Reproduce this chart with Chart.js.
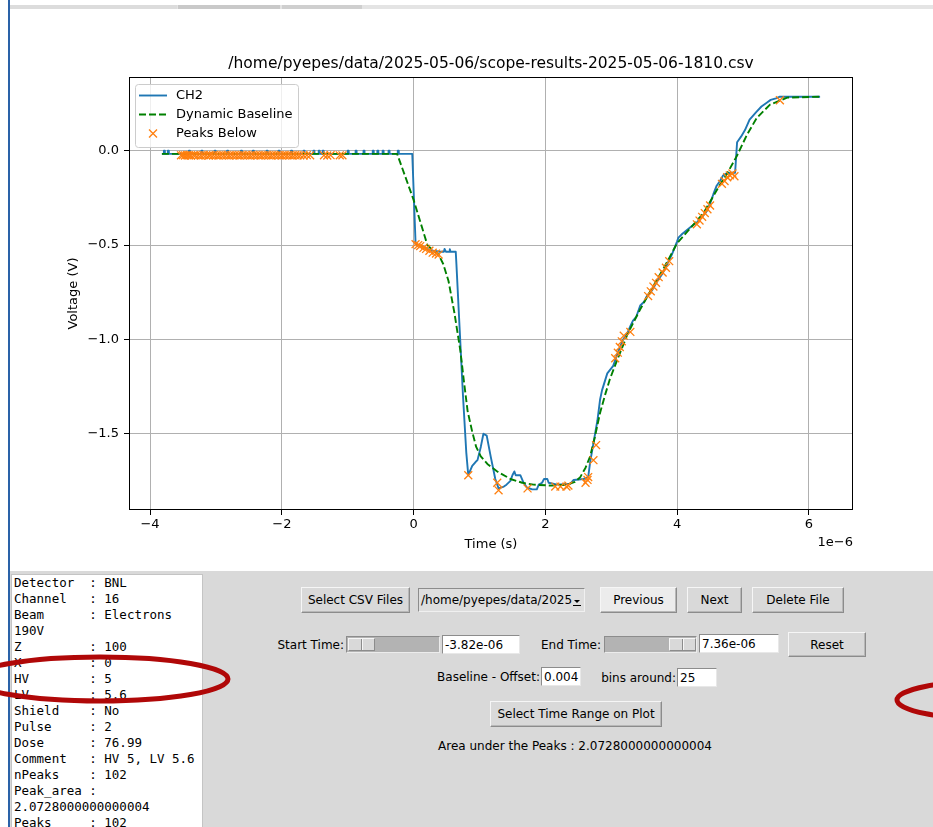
<!DOCTYPE html>
<html>
<head>
<meta charset="utf-8">
<title>scope-results-2025-05-06-1810</title>
<script src="https://cdn.jsdelivr.net/npm/chart.js@4.4.1/dist/chart.umd.min.js"></script>
<style>
  html, body { margin: 0; padding: 0; background: #ffffff; }
  body { width: 933px; height: 827px; position: relative; overflow: hidden;
         font-family: "DejaVu Sans", sans-serif; font-size: 12px; color: #000; }
  #plot { position: absolute; left: 0; top: 0; }
  .abs { position: absolute; box-sizing: border-box; }
  .strip { position: absolute; top: 5px; height: 4px; }
  #edge { left: 8px; top: 0; width: 2px; height: 827px; background: #2a62a8; }
  #panel { left: 10px; top: 571px; width: 923px; height: 256px; background: #d9d9d9; }
  #info { left: 11px; top: 574px; width: 192px; height: 260px; background: #ffffff;
          border: 1px solid #c4c4c4; margin: 0; padding: 0 0 0 2px;
          font-family: "DejaVu Sans Mono", monospace; font-size: 12.5px; line-height: 16px;
          white-space: pre; overflow: hidden; }
  .btn { background: #d9d9d9; border: 1px solid; border-color: #f6f6f6 #8c8c8c #8c8c8c #f6f6f6;
         box-shadow: inset -1px -1px 0 #b8b8b8; display: flex; align-items: center; justify-content: center;
         white-space: nowrap; }
  .btn.active { background: #ececec; }
  .entry { background: #ffffff; border: 1px solid; border-color: #8c8c8c #e8e8e8 #e8e8e8 #8c8c8c;
           padding-left: 2px; display: flex; align-items: center; white-space: nowrap; }
  .lbl { white-space: nowrap; display: flex; align-items: center; }
  .trough { background: #b3b3b3; border: 1px solid; border-color: #8c8c8c #ececec #ececec #8c8c8c; }
  .handle { position: absolute; top: 1px; height: 13px; width: 27px; background: #d9d9d9;
            border: 1px solid; border-color: #f6f6f6 #8c8c8c #8c8c8c #f6f6f6; box-sizing: border-box; }
  .handle::after { content: ""; position: absolute; left: 12px; top: 0; width: 1px; height: 11px;
                   background: #8c8c8c; box-shadow: 1px 0 0 #f6f6f6; }
  .combo { background: #dedede; border: 1px solid; border-color: #8c8c8c #f0f0f0 #f0f0f0 #8c8c8c;
           display: flex; align-items: center; padding-left: 2px; white-space: nowrap; overflow: hidden; }
  .arrow { position: absolute; right: 2px; top: 5px; width: 10px; height: 13px; }
  #marks { position: absolute; left: 0; top: 0; pointer-events: none; }
</style>
</head>
<body>
<canvas id="plot" width="933" height="570"></canvas>

<div class="strip" style="left:10px;width:923px;background:#e4e4e4;"></div>
<div class="strip" style="left:10px;width:167px;background:#dcdcdc;"></div>
<div class="strip" style="left:178px;width:102px;background:#c9c9c9;"></div>
<div class="strip" style="left:282px;width:80px;background:#cfcfcf;"></div>

<div class="abs" id="panel"></div>
<div class="abs" id="edge"></div>

<pre class="abs" id="info">Detector  : BNL
Channel   : 16
Beam      : Electrons
190V
Z         : 100
X         : 0
HV        : 5
LV        : 5.6
Shield    : No
Pulse     : 2
Dose      : 76.99
Comment   : HV 5, LV 5.6
nPeaks    : 102
Peak_area :
2.0728000000000004
Peaks     : 102</pre>

<div class="abs btn" style="left:301px;top:587px;width:109px;height:26px;">Select CSV Files</div>
<div class="abs combo" style="left:418px;top:588px;width:167px;height:24px;">/home/pyepes/data/2025
  <svg class="arrow" viewBox="0 0 10 13"><path d="M2 6 L8 6 L5 9 Z" fill="#000"/><rect x="1" y="11" width="8" height="1" fill="#000"/></svg>
</div>
<div class="abs btn active" style="left:600px;top:587px;width:77px;height:26px;">Previous</div>
<div class="abs btn" style="left:687px;top:587px;width:55px;height:26px;">Next</div>
<div class="abs btn" style="left:752px;top:587px;width:92px;height:26px;">Delete File</div>

<div class="abs lbl" style="left:250px;top:635px;width:94px;height:19px;justify-content:flex-end;">Start Time:</div>
<div class="abs trough" style="left:346px;top:636px;width:94px;height:17px;"><div class="handle" style="left:1px;"></div></div>
<div class="abs entry" style="left:442px;top:635px;width:78px;height:19px;">-3.82e-06</div>
<div class="abs lbl" style="left:530px;top:635px;width:71px;height:19px;justify-content:flex-end;">End Time:</div>
<div class="abs trough" style="left:604px;top:636px;width:93px;height:17px;"><div class="handle" style="left:64px;"></div></div>
<div class="abs entry" style="left:699px;top:634px;width:80px;height:19px;">7.36e-06</div>
<div class="abs btn" style="left:788px;top:632px;width:78px;height:25px;">Reset</div>

<div class="abs lbl" style="left:400px;top:667px;width:140px;height:19px;justify-content:flex-end;">Baseline - Offset:</div>
<div class="abs entry" style="left:541px;top:667px;width:40px;height:19px;">0.004</div>
<div class="abs lbl" style="left:590px;top:668px;width:86px;height:19px;justify-content:flex-end;">bins around:</div>
<div class="abs entry" style="left:677px;top:668px;width:40px;height:19px;">25</div>

<div class="abs btn" style="left:490px;top:701px;width:172px;height:26px;">Select Time Range on Plot</div>
<div class="abs lbl" style="left:375px;top:736px;width:400px;height:19px;justify-content:center;">Area under the Peaks : 2.0728000000000004</div>

<svg id="marks" width="933" height="827">
  <ellipse cx="100" cy="679" rx="128" ry="22" fill="none" stroke="#b00808" stroke-width="5"/>
  <ellipse cx="997" cy="700" rx="100" ry="19.5" fill="none" stroke="#b00808" stroke-width="5"/>
</svg>

<script>
// Oscilloscope channel 2 trace, time in microseconds, voltage in volts
const ch2Trace = [
  [-3.82,-0.016],
  [-3.79,-0.016],[-3.79,0.000],[-3.775,0.000],[-3.775,-0.016],
  [-3.73,-0.016],[-3.73,0.000],[-3.715,0.000],[-3.715,-0.016],
  [-3.41,-0.016],[-3.41,0.000],[-3.395,0.000],[-3.395,-0.016],
  [-3.22,-0.016],[-3.22,0.000],[-3.205,0.000],[-3.205,-0.016],
  [-3.02,-0.016],[-3.02,0.000],[-3.005,0.000],[-3.005,-0.016],
  [-2.83,-0.016],[-2.83,0.000],[-2.815,0.000],[-2.815,-0.016],
  [-2.62,-0.016],[-2.62,0.000],[-2.605,0.000],[-2.605,-0.016],
  [-2.44,-0.016],[-2.44,0.000],[-2.425,0.000],[-2.425,-0.016],
  [-2.23,-0.016],[-2.23,0.000],[-2.215,0.000],[-2.215,-0.016],
  [-2.05,-0.016],[-2.05,0.000],[-2.035,0.000],[-2.035,-0.016],
  [-1.86,-0.016],[-1.86,0.000],[-1.845,0.000],[-1.845,-0.016],
  [-1.67,-0.016],[-1.67,0.000],[-1.655,0.000],[-1.655,-0.016],
  [-1.52,-0.016],[-1.52,0.000],[-1.505,0.000],[-1.505,-0.016],
  [-1.44,-0.016],[-1.44,0.000],[-1.425,0.000],[-1.425,-0.016],
  [-1.38,-0.016],[-1.38,0.000],[-1.365,0.000],[-1.365,-0.016],
  [-1.00,-0.016],[-1.00,0.000],[-0.985,0.000],[-0.985,-0.016],
  [-0.88,-0.016],[-0.88,0.000],[-0.865,0.000],[-0.865,-0.016],
  [-0.76,-0.016],[-0.76,0.000],[-0.745,0.000],[-0.745,-0.016],
  [-0.62,-0.016],[-0.62,0.000],[-0.605,0.000],[-0.605,-0.016],
  [-0.55,-0.016],[-0.55,0.000],[-0.535,0.000],[-0.535,-0.016],
  [-0.47,-0.016],[-0.47,0.000],[-0.455,0.000],[-0.455,-0.016],
  [-0.38,-0.016],[-0.38,0.000],[-0.365,0.000],[-0.365,-0.016],
  [-0.24,-0.016],[-0.24,0.000],[-0.225,0.000],[-0.225,-0.016],
  [-0.02,-0.016],
  [0.03,-0.49],[0.06,-0.50],[0.12,-0.505],[0.18,-0.515],[0.24,-0.525],[0.30,-0.53],
  [0.40,-0.535],[0.46,-0.535],[0.47,-0.52],[0.49,-0.535],[0.54,-0.535],[0.55,-0.522],
  [0.56,-0.535],[0.64,-0.535],
  [0.65,-0.60],[0.70,-0.95],[0.75,-1.30],[0.80,-1.60],[0.83,-1.72],
  [0.89,-1.67],[0.94,-1.65],[0.97,-1.64],[1.02,-1.57],[1.06,-1.50],[1.11,-1.51],
  [1.17,-1.62],[1.24,-1.74],[1.29,-1.79],[1.37,-1.78],[1.41,-1.77],[1.47,-1.75],
  [1.50,-1.72],[1.53,-1.70],[1.55,-1.72],[1.62,-1.72],[1.67,-1.76],[1.72,-1.785],
  [1.80,-1.795],[1.87,-1.795],[1.90,-1.77],[1.95,-1.76],[1.98,-1.74],[2.03,-1.74],
  [2.05,-1.76],[2.18,-1.77],[2.38,-1.765],[2.43,-1.745],[2.58,-1.74],[2.65,-1.73],
  [2.68,-1.65],[2.73,-1.55],[2.79,-1.43],[2.83,-1.32],[2.86,-1.27],[2.94,-1.18],
  [3.03,-1.14],[3.10,-1.07],[3.18,-1.00],[3.24,-0.97],[3.29,-0.93],[3.33,-0.90],
  [3.38,-0.88],[3.44,-0.82],[3.50,-0.80],[3.54,-0.77],[3.62,-0.74],[3.70,-0.69],
  [3.78,-0.65],[3.85,-0.60],[3.92,-0.55],[4.00,-0.48],[4.02,-0.46],[4.08,-0.44],
  [4.15,-0.42],[4.22,-0.40],[4.30,-0.38],[4.38,-0.35],[4.45,-0.32],[4.50,-0.28],
  [4.55,-0.23],[4.60,-0.185],[4.65,-0.16],[4.70,-0.13],[4.75,-0.12],[4.83,-0.116],
  [4.88,-0.116],[4.91,0.045],[4.97,0.075],[5.03,0.11],[5.10,0.165],[5.20,0.205],
  [5.28,0.235],[5.36,0.255],[5.42,0.27],[5.50,0.278],[5.56,0.287],[6.17,0.287]
];

// Dynamic baseline estimate
const baselineTrace = [
  [-3.82,-0.016],[-0.25,-0.016],[0.00,-0.26],[0.21,-0.50],[0.30,-0.53],[0.38,-0.55],
  [0.45,-0.60],[0.53,-0.69],[0.62,-0.86],[0.71,-1.06],[0.76,-1.21],[0.82,-1.38],
  [0.89,-1.49],[0.95,-1.57],[1.02,-1.62],[1.12,-1.66],[1.27,-1.70],[1.47,-1.74],
  [1.65,-1.76],[1.82,-1.77],[2.10,-1.775],[2.33,-1.77],[2.45,-1.755],[2.53,-1.73],
  [2.61,-1.68],[2.68,-1.62],[2.75,-1.52],[2.83,-1.39],[2.91,-1.29],[2.98,-1.21],
  [3.10,-1.10],[3.25,-0.97],[3.44,-0.84],[3.60,-0.74],[3.80,-0.62],[4.00,-0.49],
  [4.20,-0.41],[4.40,-0.33],[4.55,-0.24],[4.65,-0.18],[4.76,-0.12],[4.91,-0.025],
  [5.06,0.085],[5.21,0.175],[5.41,0.245],[5.67,0.282],[6.17,0.287]
];

// Detected peaks below the baseline
const peaksBelow = [
  [-3.53,-0.024],[-3.50,-0.023],[-3.47,-0.025],[-3.44,-0.023],[-3.41,-0.024],[-3.38,-0.025],
  [-3.34,-0.023],[-3.31,-0.024],[-3.27,-0.024],[-3.23,-0.025],[-3.19,-0.023],[-3.15,-0.024],
  [-3.11,-0.025],[-3.08,-0.023],[-3.04,-0.024],[-3.00,-0.024],[-2.96,-0.025],[-2.92,-0.023],
  [-2.88,-0.024],[-2.84,-0.024],[-2.80,-0.025],[-2.76,-0.023],[-2.72,-0.024],[-2.68,-0.024],
  [-2.64,-0.025],[-2.60,-0.023],[-2.56,-0.024],[-2.52,-0.024],[-2.48,-0.025],[-2.44,-0.023],
  [-2.40,-0.024],[-2.36,-0.024],[-2.32,-0.025],[-2.28,-0.023],[-2.24,-0.024],[-2.20,-0.024],
  [-2.16,-0.025],[-2.12,-0.023],[-2.08,-0.024],[-2.04,-0.024],[-2.00,-0.025],[-1.96,-0.023],
  [-1.92,-0.024],[-1.88,-0.024],[-1.84,-0.025],[-1.80,-0.023],[-1.76,-0.024],[-1.72,-0.024],
  [-1.67,-0.025],[-1.62,-0.023],[-1.57,-0.024],[-1.36,-0.024],[-1.31,-0.025],[-1.26,-0.023],
  [-1.12,-0.024],[-1.08,-0.024],
  [0.03,-0.495],[0.07,-0.50],[0.10,-0.505],[0.15,-0.515],[0.19,-0.52],[0.24,-0.53],
  [0.29,-0.54],[0.34,-0.545],[0.38,-0.55],
  [0.83,-1.72],[1.27,-1.76],[1.29,-1.80],[1.73,-1.79],[2.15,-1.78],[2.23,-1.78],
  [2.32,-1.78],[2.35,-1.775],[2.61,-1.76],[2.64,-1.745],[2.65,-1.73],[2.73,-1.64],[2.77,-1.56],
  [3.06,-1.10],[3.10,-1.07],[3.13,-1.04],[3.16,-1.01],[3.19,-0.98],[3.29,-0.96],
  [3.56,-0.77],[3.60,-0.745],[3.64,-0.72],[3.68,-0.70],[3.72,-0.67],[3.78,-0.645],
  [3.83,-0.62],[3.88,-0.585],
  [4.30,-0.39],[4.34,-0.37],[4.38,-0.35],[4.42,-0.33],[4.46,-0.31],[4.50,-0.29],
  [4.68,-0.175],[4.72,-0.16],[4.76,-0.14],[4.80,-0.13],[4.84,-0.12],[4.87,-0.135],
  [5.56,0.268]
];

const seriesLabels = ['CH2', 'Dynamic Baseline', 'Peaks Below'];
const plotTitle = '/home/pyepes/data/2025-05-06/scope-results-2025-05-06-1810.csv';
const xTickValues = [-4, -2, 0, 2, 4, 6];
const xTickLabels = ['\u22124', '\u22122', '0', '2', '4', '6'];
const yTickValues = [-1.5, -1.0, -0.5, 0.0];
const yTickLabels = ['\u22121.5', '\u22121.0', '\u22120.5', '0.0'];
const xAxisLabel = 'Time (s)';
const yAxisLabel = 'Voltage (V)';
const xOffsetText = '1e\u22126';

const C_BLUE = '#1f77b4', C_GREEN = '#008000', C_ORANGE = '#ff7f0e';
const FONT = '"DejaVu Sans", sans-serif';

// autoscale limits with a 5% margin on each side
function paddedRange(arrays, idx) {
  let lo = Infinity, hi = -Infinity;
  arrays.forEach(a => a.forEach(p => { lo = Math.min(lo, p[idx]); hi = Math.max(hi, p[idx]); }));
  const m = (hi - lo) * 0.05;
  return [lo - m, hi + m];
}
const [xMin, xMax] = paddedRange([ch2Trace, baselineTrace, peaksBelow], 0);
const [yMin, yMax] = paddedRange([ch2Trace, baselineTrace, peaksBelow], 1);

const toXY = a => a.map(p => ({ x: p[0], y: p[1] }));

function drawCross(ctx, cx, cy, h) {
  ctx.beginPath();
  ctx.moveTo(cx - h, cy - h); ctx.lineTo(cx + h, cy + h);
  ctx.moveTo(cx - h, cy + h); ctx.lineTo(cx + h, cy - h);
  ctx.stroke();
}

// title, frame, legend and offset label drawn around the plot area
const decorations = {
  id: 'decorations',
  afterDatasetsDraw(chart) {
    const { ctx, chartArea: a } = chart;
    ctx.save();
    ctx.strokeStyle = '#000';
    ctx.lineWidth = 1;
    ctx.strokeRect(Math.round(a.left) + 0.5, Math.round(a.top) + 0.5,
                   Math.round(a.right - a.left) - 1, Math.round(a.bottom - a.top) - 1);

    ctx.fillStyle = '#000';
    ctx.font = '15.5px ' + FONT;
    ctx.textAlign = 'center';
    ctx.textBaseline = 'middle';
    ctx.fillText(plotTitle, (a.left + a.right) / 2, 64);

    ctx.font = '13px ' + FONT;
    ctx.textAlign = 'right';
    ctx.fillText(xOffsetText, a.right, 543);

    // legend box
    const lx = a.left + 6.5, ly = a.top + 7.5, lw = 163, lh = 63, r = 3;
    ctx.beginPath();
    ctx.moveTo(lx + r, ly);
    ctx.arcTo(lx + lw, ly, lx + lw, ly + lh, r);
    ctx.arcTo(lx + lw, ly + lh, lx, ly + lh, r);
    ctx.arcTo(lx, ly + lh, lx, ly, r);
    ctx.arcTo(lx, ly, lx + lw, ly, r);
    ctx.closePath();
    ctx.fillStyle = 'rgba(255,255,255,0.8)';
    ctx.fill();
    ctx.strokeStyle = '#cccccc';
    ctx.stroke();

    const ds = chart.data.datasets;
    const order = seriesLabels.map(l => ds.find(d => d.label === l));
    const rowY = [a.top + 18.5, a.top + 37.5, a.top + 56.5];
    order.forEach((d, i) => {
      const y = rowY[i];
      ctx.strokeStyle = d.borderColor;
      if (d.showLine) {
        ctx.lineWidth = d.borderWidth;
        ctx.setLineDash(d.borderDash || []);
        ctx.beginPath();
        ctx.moveTo(a.left + 10, y);
        ctx.lineTo(a.left + 38, y);
        ctx.stroke();
        ctx.setLineDash([]);
      } else {
        ctx.lineWidth = d.borderWidth;
        drawCross(ctx, a.left + 24, y, 4);
      }
      ctx.fillStyle = '#000';
      ctx.font = '13px ' + FONT;
      ctx.textAlign = 'left';
      ctx.fillText(d.label, a.left + 47, y);
    });
    ctx.restore();
  }
};

new Chart(document.getElementById('plot'), {
  type: 'scatter',
  data: {
    datasets: [
      { label: seriesLabels[2], data: toXY(peaksBelow), showLine: false,
        pointStyle: 'crossRot', pointRadius: 5.6, pointBorderWidth: 1.3,
        borderColor: C_ORANGE, backgroundColor: C_ORANGE, borderWidth: 1.3 },
      { label: seriesLabels[1], data: toXY(baselineTrace), showLine: true,
        borderColor: C_GREEN, borderWidth: 1.9, borderDash: [7, 3], pointRadius: 0, tension: 0,
        borderJoinStyle: 'round' },
      { label: seriesLabels[0], data: toXY(ch2Trace), showLine: true,
        borderColor: C_BLUE, borderWidth: 1.9, pointRadius: 0, tension: 0,
        borderJoinStyle: 'round' }
    ]
  },
  options: {
    responsive: false,
    animation: false,
    devicePixelRatio: 1,
    events: [],
    layout: { padding: { left: 0, right: 80, top: 77, bottom: 0 } },
    plugins: { legend: { display: false }, tooltip: { enabled: false }, title: { display: false } },
    scales: {
      x: {
        type: 'linear', min: xMin, max: xMax,
        afterBuildTicks: s => { s.ticks = xTickValues.map(v => ({ value: v })); },
        afterFit: s => { s.height = 60; },
        ticks: { callback: (v) => xTickLabels[xTickValues.indexOf(v)], color: '#000',
                 font: { family: FONT, size: 13 }, padding: 2, maxRotation: 0, autoSkip: false },
        grid: { color: '#b0b0b0', lineWidth: 1, tickLength: 5, tickColor: '#000', tickWidth: 1 },
        border: { display: false },
        title: { display: true, text: xAxisLabel, color: '#000', font: { family: FONT, size: 13 },
                 padding: { top: 0, bottom: 18 } }
      },
      y: {
        type: 'linear', min: yMin, max: yMax,
        afterBuildTicks: s => { s.ticks = yTickValues.map(v => ({ value: v })); },
        afterFit: s => { s.width = 129; },
        ticks: { callback: (v) => yTickLabels[yTickValues.indexOf(v)], color: '#000',
                 font: { family: FONT, size: 13 }, padding: 5, autoSkip: false },
        grid: { color: '#b0b0b0', lineWidth: 1, tickLength: 5, tickColor: '#000', tickWidth: 1 },
        border: { display: false },
        title: { display: true, text: yAxisLabel, color: '#000', font: { family: FONT, size: 13 },
                 padding: { top: 66, bottom: 0 } }
      }
    }
  },
  plugins: [decorations]
});
</script>
</body>
</html>
